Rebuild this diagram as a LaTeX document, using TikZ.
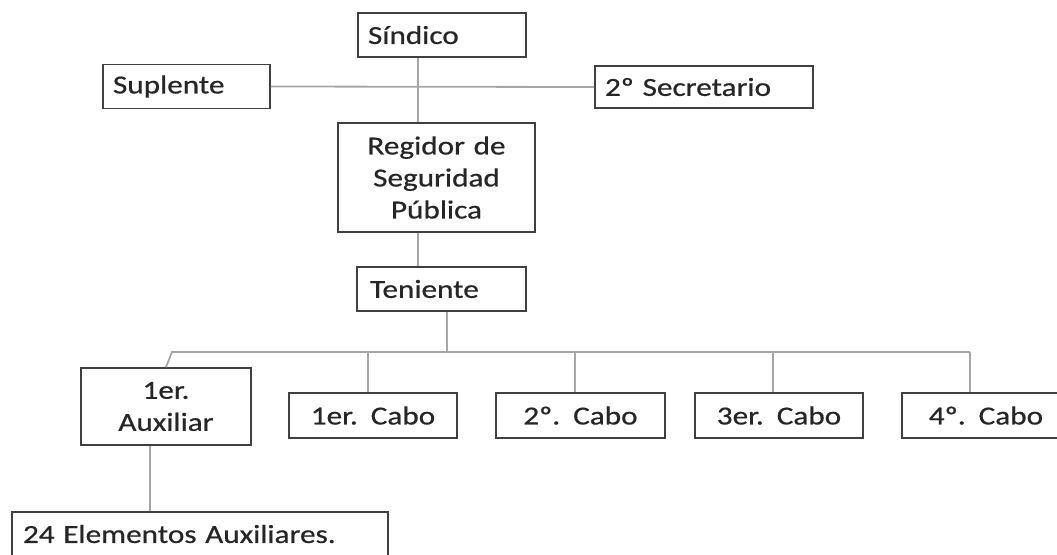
\documentclass[tikz,border=0pt]{standalone}
\usepackage{fontspec}
\newfontfamily\orgfont[FakeStretch=1.2,FakeBold=0.6]{Carlito}
\usepackage{tikz}
\usetikzlibrary{calc}

\begin{document}
\begin{tikzpicture}[x=1pt,y=-1pt,
        puesto/.style={draw=black!75,line width=1.7pt,fill=white,
            font=\orgfont\fontsize{26}{32}\selectfont,text=black!85,inner ysep=0pt,minimum height=44pt},
        izq/.style={puesto,align=left,inner xsep=10pt,text width=#1-20pt},
        cen/.style={puesto,align=center,inner xsep=0pt,text width=#1},
        linea/.style={draw=black!35,line width=1.8pt}]
        \useasboundingbox (0,0) rectangle (1057,554);
        \node[izq=168pt] (sindico) at (442,35) {Síndico};
        \node[izq=167pt] (suplente) at (186.5,86.5) {Suplente};
        \node[izq=218pt,minimum height=42pt] (secretario) at (704,87) {2º Secretario};
        \node[cen=197pt,minimum height=109pt] (regidor) at (436.5,177.5) {Regidor de\\Seguridad\\Pública};
        \node[izq=169pt,inner xsep=13pt,text width=143pt] (teniente) at (441.5,289) {Teniente};
        \node[cen=170pt,minimum height=77pt] (auxiliar) at (166,406.5) {1er.\\Auxiliar};
        \node[cen=168pt,minimum height=45pt] (cabo1) at (373,415.5) {1er. Cabo};
        \node[cen=169pt,minimum height=45pt] (cabo2) at (580.5,415.5) {2º. Cabo};
        \node[cen=168pt,minimum height=45pt] (cabo3) at (779,415.5) {3er. Cabo};
        \node[cen=168pt,minimum height=45pt] (cabo4) at (986,415.5) {4º. Cabo};
        \node[izq=376pt,inner xsep=11pt,text width=354pt] (elementos) at (200,534) {24 Elementos Auxiliares.};
        % lineas de mando
        \coordinate (eje) at (418,0);
        \coordinate (baja) at (447,352);
        \coordinate (busL) at (172,352);
        \coordinate (busR) at (970,352);
        \begin{scope}[linea]
            \draw (sindico.south -| eje) -- (regidor.north -| eje);
            \draw (suplente.east) -- (secretario.west);
            \draw (regidor.south -| eje) -- (teniente.north -| eje);
            \draw (teniente.south -| baja) -- (baja);
            \draw (auxiliar.north) -- (busL) -- (busR);
            \foreach \n/\x in {cabo1/368,cabo2/575,cabo3/773,cabo4/970}
                \draw (\x,352) -- (\x,0 |- \n.north);
            \draw ([xshift=-16pt]auxiliar.south) -- ([xshift=-16pt]auxiliar.south |- elementos.north);
        \end{scope}
    \end{tikzpicture}
\end{document}
